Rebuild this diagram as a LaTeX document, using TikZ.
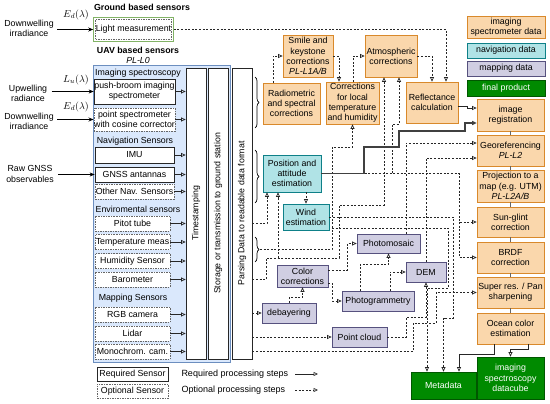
\documentclass[tikz,border=0pt]{standalone}
\usepackage{fontspec}
\setmainfont{Liberation Sans}
\usetikzlibrary{arrows.meta,decorations.pathreplacing,fit,calc}
\definecolor{orF}{HTML}{FAD7AC}
\definecolor{orD}{HTML}{D9892B}
\definecolor{teF}{HTML}{B0E3E6}
\definecolor{teD}{HTML}{0E8088}
\definecolor{laF}{HTML}{D0CEE2}
\definecolor{laD}{HTML}{56517E}
\definecolor{grF}{HTML}{008A00}
\definecolor{grD}{HTML}{005700}
\definecolor{blF}{HTML}{DAE8FC}
\definecolor{blD}{HTML}{6C8EBF}
\definecolor{lmG}{HTML}{82B366}
\newcommand\fsz{\fontsize{8.8}{10.2}\selectfont}
\begin{document}
\begin{tikzpicture}[x=1pt,y=-1pt,
  font=\fsz,
  every node/.style={inner sep=0.3pt, align=center},
  box/.style={draw, line width=0.7pt, text=black},
  orbox/.style={box, draw=orD, fill=orF},
  tealbox/.style={box, draw=teD, fill=teF},
  mapbox/.style={box, draw=laD, fill=laF},
  finbox/.style={box, draw=grD, fill=grF, text=white},
  reqsen/.style={draw=black!85, line width=0.7pt, fill=white},
  optsen/.style={draw=black!60, dash pattern=on 1.5pt off 1pt, line width=0.7pt, fill=white},
  col/.style={draw=black!85, fill=white, line width=0.7pt},
  tipo/.style={-{Triangle[open,length=4.5pt,width=4pt]}},
  req/.style={tipo, draw=black!85, line width=0.7pt},
  reqthick/.style={tipo, draw=black!75, line width=1.1pt},
  opt/.style={tipo, draw=black!85, line width=0.7pt, dash pattern=on 2pt off 1.6pt},
  inarrow/.style={-{Stealth[length=5pt,width=4pt]}, line width=0.8pt},
  chainln/.style={draw=black!60, line width=0.9pt},
  bracest/.style={decorate, decoration={brace, amplitude=4pt}, line width=0.7pt},
  sz/.style 2 args={minimum width=#1pt, minimum height=#2pt},
  mathlbl/.style={font=\fontsize{10}{12}\selectfont},
]
\useasboundingbox (0,0) rectangle (550,404);

% ---------- headings ----------
\node[font=\fsz\bfseries] (hg) at (142,7) {Ground based sensors};
\node[font=\fsz\bfseries] (hu) at (138,50) {UAV based sensors};
\node[font=\fsz\itshape] (hl0) at (138,60) {PL-L0};

% ---------- ground sensor ----------
\node[optsen, sz={75}{20}] (lm) at (133.5,29.5) {Light measurement};
\node[draw=lmG, line width=0.9pt, fit=(lm), inner sep=1.5pt] (lmf) {};

% ---------- UAV panel ----------
\node[fill=blF, draw=blD, line width=0.7pt, sz={137}{297}] (panel) at (161.5,213.5) {};
\node (hspec) at (138,73) {Imaging spectroscopy};
\node (hnav) at (135,141) {Navigation Sensors};
\node (henv) at (138,209) {Enviromental sensors};
\node (hmap) at (133,298) {Mapping Sensors};

\node[reqsen, sz={81}{25}] (pb) at (134.5,91.5) {push-broom imaging\\spectrometer};
\node[optsen, sz={81}{23}] (ps) at (134.5,119.5) {point spectrometer\\with cosine corrector};
\node[reqsen, sz={79}{16}] (imu) at (134.5,155) {IMU};
\node[reqsen, sz={79}{15}] (gnss) at (134.5,174.5) {GNSS antannas};
\node[optsen, sz={79}{15}] (onav) at (134.5,191.5) {Other Nav. Sensors};
\node[optsen, sz={75}{15}] (pitot) at (132.5,223.5) {Pitot tube};
\node[optsen, sz={75}{15}] (temp) at (132.5,242) {Temperature meas};
\node[optsen, sz={75}{15}] (hum) at (132.5,261) {Humidity Sensor};
\node[optsen, sz={75}{15}] (baro) at (132.5,279.5) {Barometer};
\node[optsen, sz={75}{15}] (rgb) at (132.5,314.5) {RGB camera};
\node[optsen, sz={75}{15}] (lidar) at (132.5,333.5) {Lidar};
\node[optsen, sz={75}{15}] (mono) at (132.5,351.5) {Monochrom. cam.};

% ---------- inputs ----------
\node (dw1) at (29,28) {Downwelling\\irradiance};
\node[mathlbl] (ed1) at (76,15) {$E_d(\lambda)$};
\node (up) at (28,93) {Upwelling\\radiance};
\node[mathlbl] (lu) at (76,80) {$L_u(\lambda)$};
\node (dw2) at (29,121) {Downwelling\\irradiance};
\node[mathlbl] (ed2) at (76,107) {$E_d(\lambda)$};
\node (rawg) at (30,174) {Raw GNSS\\observables};
\draw[inarrow] ([xshift=3pt]dw1.east |- lm) -- (lmf.west |- lm);
\draw[inarrow] ([xshift=4pt]up.east |- pb) -- (pb.west);
\draw[inarrow] ([xshift=3pt]dw2.east |- ps) -- (ps.west);
\draw[inarrow] ([xshift=4pt]rawg.east |- gnss) -- (gnss.west);

% ---------- processing columns ----------
\node[col, sz={20}{291}] (ts) at (196,213.5) {};
\node[col, sz={20}{291}] (st) at (218,213.5) {};
\node[col, sz={20}{291}] (pa) at (242,213.5) {};
\node[rotate=90] (tst) at (ts) {Timestamping};
\node[rotate=90] (stt) at (st) {Storage or transmission to ground station};
\node[rotate=90] (pat) at (pa) {Parsing Data to readable data format};

\foreach \s in {pb,ps,imu,gnss,onav,pitot,temp,hum,baro,rgb,lidar,mono}
  \draw[req] (\s.east) -- (\s.east -| ts.west);

% ---------- braces ----------
\draw[bracest] (255,77) -- (255,128);
\draw[bracest] (255,150) -- (255,203);
\draw[bracest] (255,237) -- (255,262);
\coordinate (b3) at (260,249.5);

% ---------- processing boxes ----------
\node[orbox, sz={57}{41}] (rad) at (291.5,103.5) {Radiometric\\and spectral\\corrections};
\node[orbox, sz={50}{42}] (smile) at (308,56) {Smile and\\keystone\\corrections\\\textit{PL-L1A/B}};
\node[orbox, sz={53}{42}] (corr) at (352.5,103) {Corrections\\for local\\temperature\\and humidity};
\node[orbox, sz={52}{42}] (atm) at (391,56) {Atmospheric\\corrections};
\node[orbox, sz={52}{41}] (refl) at (432,102.5) {Reflectance\\calculation};
\node[tealbox, sz={58}{37}] (pos) at (292,173.5) {Position and\\attitude\\estimation};
\node[tealbox, sz={46}{26}] (wind) at (306,217) {Wind\\estimation};
\node[mapbox, sz={63}{19}] (pmos) at (388.5,243.5) {Photomosaic};
\node[mapbox, sz={40}{20}] (dem) at (426,272) {DEM};
\node[mapbox, sz={51}{22}] (colc) at (302.5,276) {Color\\corrections};
\node[mapbox, sz={72}{20}] (pgram) at (378,301) {Photogrammetry};
\node[mapbox, sz={54}{20}] (debay) at (289,313) {debayering};
\node[mapbox, sz={55}{20}] (pc) at (359.5,337) {Point cloud};

\node[orbox, sz={67}{32}] (imgreg) at (510.5,115) {image\\registration};
\node[orbox, sz={67}{31}] (georef) at (510.5,150.5) {Georeferencing\\\textit{PL-L2}};
\node[orbox, sz={67}{32}] (proj) at (510.5,186) {Projection to a\\map (e.g. UTM)\\\textit{PL-L2A/B}};
\node[orbox, sz={67}{30}] (sun) at (510.5,222) {Sun-glint\\correction};
\node[orbox, sz={67}{31}] (brdf) at (510.5,257.5) {BRDF\\correction};
\node[orbox, sz={67}{31}] (sres) at (510.5,292.5) {Super res. / Pan\\sharpening};
\node[orbox, sz={67}{31}] (ocean) at (510.5,328.5) {Ocean color\\estimation};
\node[finbox, sz={67}{42}] (cube) at (510.5,378) {imaging\\spectroscopy\\datacube};
\node[finbox, sz={65}{27}] (meta) at (443.5,385.5) {Metadata};

% ---------- legend right ----------
\node[orbox, sz={78}{22}] (lg1) at (506,27) {imaging\\spectrometer data};
\node[tealbox, sz={78}{15}] (lg2) at (506,50.5) {navigation data};
\node[mapbox, sz={78}{15}] (lg3) at (506,68.5) {mapping data};
\node[finbox, sz={78}{16}] (lg4) at (506,88) {final product};

% ---------- legend bottom ----------
\node[reqsen, sz={71}{14}] (lreq) at (132.5,374) {Required Sensor};
\node[optsen, sz={71}{14}] (lopt) at (132.5,391) {Optional Sensor};
\node[anchor=west, font=\fontsize{9}{11}\selectfont] (lreqt) at (181,374) {Required processing steps};
\node[anchor=west, font=\fontsize{9}{11}\selectfont] (loptt) at (181,390) {Optional processing steps};
\coordinate (la1) at (295,374); \coordinate (la2) at (318,374);
\coordinate (lb1) at (295,390); \coordinate (lb2) at (318,390);
\draw[req] (la1) -- (la2);
\draw[opt] (lb1) -- (lb2);

% ---------- chain ----------
\draw[chainln] (imgreg) -- (georef);
\draw[chainln] (georef) -- (proj);
\draw[chainln] (proj) -- (sun);
\draw[chainln] (sun) -- (brdf);
\draw[chainln] (brdf) -- (sres);
\draw[chainln] (sres) -- (ocean);

% ---------- junction coordinates ----------
\coordinate (jp1) at (364,173.5);
\coordinate (jp2) at (392,173.5);
\coordinate (jsun) at (459,222);
\coordinate (jbaro) at (278,258);
\coordinate (jenv) at (332,228);

% ---------- optional connectors ----------
\draw[opt] (lmf.east |- lm) -| ([xshift=14pt]refl.north);
\draw[opt] ([xshift=-18.5pt]rad.north) |- (smile.west);
\draw[opt] (smile.east) -| ([xshift=-13.5pt]corr.north);
\draw[opt] ([xshift=0.5pt]corr.north) |- (atm.west);
\draw[opt] (atm.east) -| (refl.north);
\draw[opt] (pa.east |- pitot) -| ([xshift=-25pt]pos.south);
\draw[opt] (b3) -| (332,147) -| (corr.south);
\draw[opt] (jenv) -- (448,228) -- (448,288) -| ([xshift=-16.5pt]meta.north);
\draw[opt] (pa.east |- baro) -- (266,279.5) -- (266,258) -- (339,258) -- (339,205) -| ([xshift=-7pt]atm.south);
\draw[opt] (jbaro) -- ([xshift=-14pt]pos.south);
\draw[opt] (pos.south -| wind.north) -- (wind.north);
\draw[opt] (wind.east) -- (453,217) -- (453,318) -| (meta.north);
\draw[opt] (pos.east) -- (459,173.5) |- (sun.west);
\draw[opt] (jsun) |- (brdf.west);
\draw[opt] (jp2) -- (392,124) -| ([xshift=8pt]atm.south);
\draw[opt] ([xshift=17.5pt]pmos.north) |- ([yshift=7.5pt]georef.west);
\draw[opt] (dem.north) |- ([yshift=-7.5pt]georef.west);
\draw[opt] ([yshift=6pt]colc.east) -- ++(19,0) |- (pmos.west);
\draw[opt] ([yshift=-7pt]colc.east) -- ++(4,0) |- (pgram.west);
\draw[opt] (debay.north) -- ++(0,-5) -| (colc.south);
\draw[opt] (pa.east |- debay) -- (debay.west);
\draw[opt] (pa.east |- pc) -- (pc.west);
\draw[opt] ([xshift=-18pt]pgram.north) -- ++(0,-26) -| (pmos.south);
\draw[opt] ([xshift=12pt]pgram.north) |- (dem.west);
\draw[opt] (pc.east) -- ++(19,0) -- ++(0,-20) -| (dem.south);
\draw[opt] (pa.east |- mono) -- (413,351.5) |- (436,323) |- (sres.west);

% ---------- required connectors ----------
\draw[reqthick] (pos.east) -- (jp1) |- (399,147) |- (465,131) |- ([yshift=-8pt]imgreg.west);
\draw[req] ([yshift=-3.5pt]refl.east) -- ++(9,0) |- ([yshift=7pt]imgreg.west);
\draw[req] ([xshift=-16.5pt]ocean.south) -- ++(0,10) -| ([xshift=15.5pt]meta.north);
\draw[req] ([xshift=17.5pt]ocean.south) -- ++(0,5) -| (cube.north);
\end{tikzpicture}
\end{document}
